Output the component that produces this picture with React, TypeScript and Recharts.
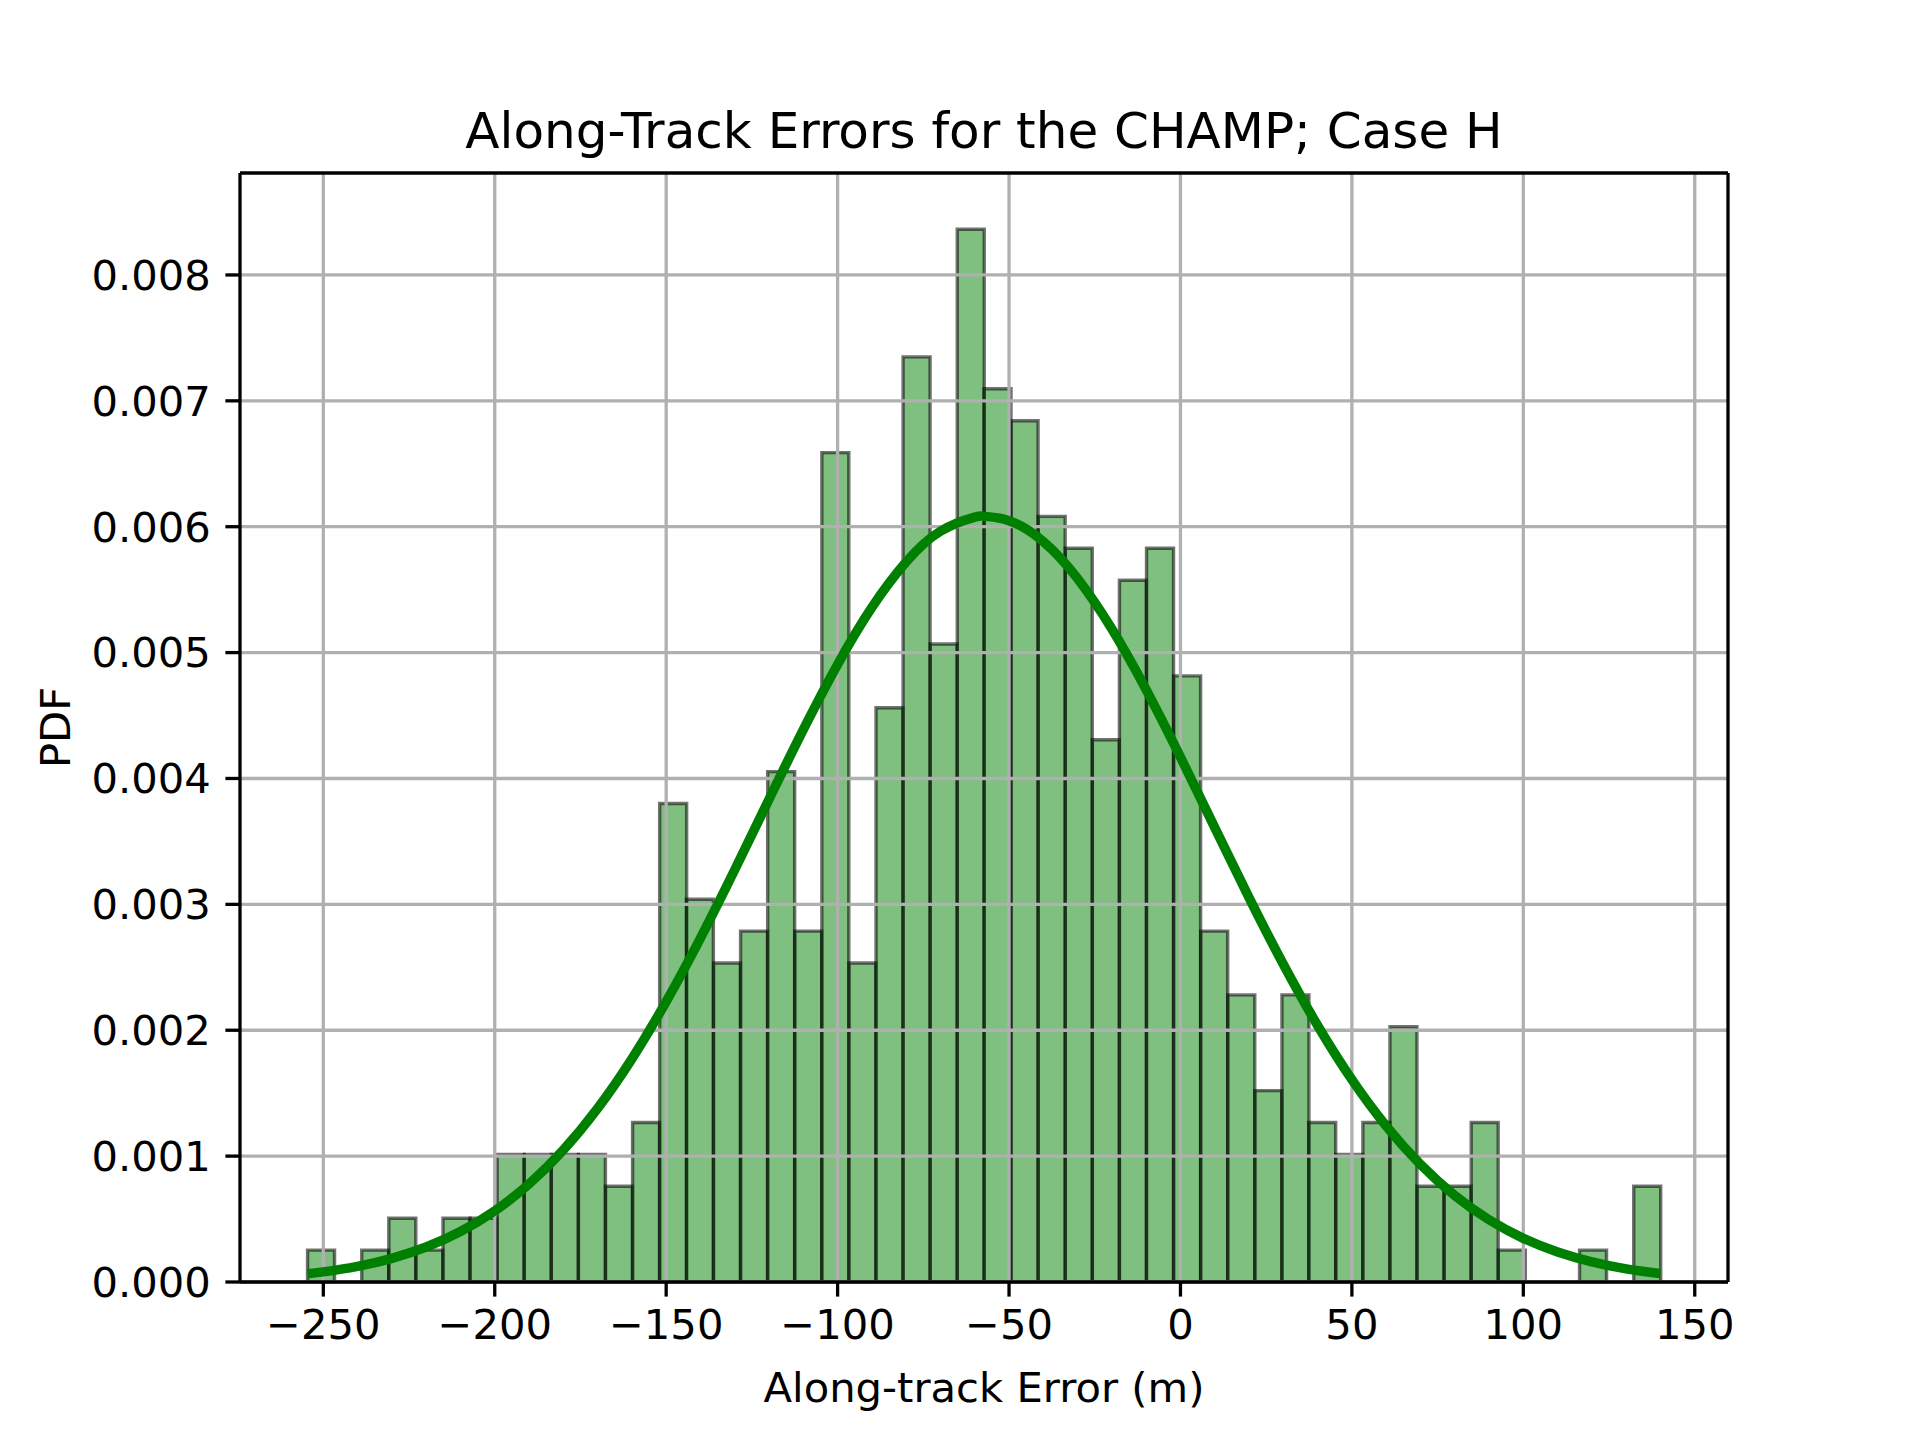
import React from "react";
import {
  ComposedChart,
  Bar,
  Line,
  XAxis,
  YAxis,
  CartesianGrid,
  ReferenceLine,
} from "recharts";

if (typeof document !== "undefined") {
  document.body.style.margin = "0";
}

// histogram: 50 bins, 500 samples
const sampleCount = 500;
const binWidth = 7.892;
const binCenters = [
  -250.7, -242.8, -234.9, -227.0, -219.1, -211.2, -203.3, -195.4, -187.5, -179.6,
  -171.7, -163.8, -155.9, -148.0, -140.2, -132.3, -124.4, -116.5, -108.6, -100.7,
  -92.8, -84.9, -77.0, -69.1, -61.2, -53.4, -45.5, -37.6, -29.7, -21.8,
  -13.9, -6.0, 1.9, 9.8, 17.7, 25.6, 33.5, 41.3, 49.2, 57.1,
  65.0, 72.9, 80.8, 88.7, 96.6, 104.5, 112.4, 120.3, 128.2, 136.1,
];
const binCounts = [
  1, 0, 1, 2, 1, 2, 2, 4, 4, 4,
  4, 3, 5, 15, 12, 10, 11, 16, 11, 26,
  10, 18, 29, 20, 33, 28, 27, 24, 23, 17,
  22, 23, 19, 11, 9, 6, 9, 5, 4, 5,
  8, 3, 3, 5, 1, 0, 0, 1, 0, 3,
];

// fitted normal curve
const curveX = [
  -254.6, -250, -240, -230, -220, -210, -200, -190, -180, -170, -160, -150,
  -140, -130, -120, -110, -100, -90, -80, -70, -60, -57, -50, -40, -30, -20, -10,
  0, 10, 20, 30, 40, 50, 60, 70, 80, 90, 100, 110, 120, 130, 140,
];
const curvePdf = [
  0.0000651, 0.0000802, 0.0001242, 0.000188, 0.0002777, 0.0004007, 0.0005653,
  0.0007786, 0.0010486, 0.0013794, 0.001773, 0.002227, 0.002732, 0.003275,
  0.003835, 0.004388, 0.004906, 0.005359, 0.00572, 0.005964, 0.006076, 0.006082,
  0.006048, 0.005882, 0.005588, 0.005187, 0.004705, 0.00417, 0.00361,
  0.003054, 0.002524, 0.002038, 0.001608, 0.00124, 0.000934, 0.000687,
  0.000494, 0.000347, 0.000238, 0.0001597, 0.0001046, 0.0000669,
];

const xTicks = [-250, -200, -150, -100, -50, 0, 50, 100, 150];
const yTicks = [0, 0.001, 0.002, 0.003, 0.004, 0.005, 0.006, 0.007, 0.008];
const xDomain: [number, number] = [-274.3, 159.7];
const yDomain: [number, number] = [0, 0.00881];

const binRows = binCenters.map((c, i) => ({
  center: c,
  pdf: binCounts[i] / (sampleCount * binWidth),
}));
const curveRows = curveX.map((x, i) => ({ x, pdf: curvePdf[i] }));

const FONT = "'DejaVu Sans', sans-serif";
const fmtX = (v: number) => (v < 0 ? "\u2212" + Math.abs(v) : String(v));

export default function App() {
  return (
    <div style={{ position: "relative", width: 1920, height: 1440, background: "#fff" }}>
      <ComposedChart
        width={1920}
        height={1440}
        data={binRows}
        margin={{ top: 173, right: 192, bottom: 28, left: 40 }}
        barCategoryGap={0}
        barGap={0}
        style={{ fontFamily: FONT }}
      >
        <XAxis
          xAxisId={0}
          type="number"
          dataKey="x"
          domain={xDomain}
          ticks={xTicks}
          allowDataOverflow
          tickFormatter={fmtX}
          height={130}
          tickSize={14.6}
          tickMargin={13}
          stroke="#000"
          axisLine={{ stroke: "#000", strokeWidth: 3.3 }}
          tickLine={{ stroke: "#000", strokeWidth: 3.3 }}
          tick={{ fill: "#000", fontSize: 41.7, fontFamily: FONT }}
          label={{
            value: "Along-track Error (m)",
            position: "insideBottom",
            offset: 10,
            fill: "#000",
            fontSize: 41.7,
            fontFamily: FONT,
          }}
        />
        <XAxis
          xAxisId="bins"
          type="number"
          dataKey="center"
          domain={xDomain}
          allowDataOverflow
          hide
        />
        <YAxis
          yAxisId={0}
          type="number"
          domain={yDomain}
          ticks={yTicks}
          allowDataOverflow
          tickFormatter={(v: number) => v.toFixed(3)}
          width={200}
          tickSize={14.6}
          tickMargin={14.6}
          axisLine={{ stroke: "#000", strokeWidth: 3.3 }}
          tickLine={{ stroke: "#000", strokeWidth: 3.3 }}
          tick={{ fill: "#000", fontSize: 41.7, fontFamily: FONT }}
          label={{
            value: "PDF",
            angle: -90,
            position: "insideLeft",
            offset: 15,
            fill: "#000",
            fontSize: 41.7,
            fontFamily: FONT,
            style: { textAnchor: "middle" },
          }}
        />
        <Bar
          xAxisId="bins"
          yAxisId={0}
          dataKey="pdf"
          fill="#008000"
          fillOpacity={0.5}
          stroke="#000"
          strokeOpacity={0.55}
          strokeWidth={3.4}
          isAnimationActive={false}
        />
        <CartesianGrid
          xAxisId={0}
          yAxisId={0}
          stroke="#b0b0b0"
          strokeWidth={3.3}
          horizontalValues={yTicks}
          verticalValues={xTicks}
          zIndex={350}
        />
        <Line
          xAxisId={0}
          yAxisId={0}
          data={curveRows}
          dataKey="pdf"
          type="natural"
          stroke="#008000"
          strokeWidth={9.5}
          dot={false}
          activeDot={false}
          isAnimationActive={false}
        />
        <ReferenceLine
          xAxisId={0}
          yAxisId={0}
          y={yDomain[1]}
          stroke="#000"
          strokeWidth={3.3}
          ifOverflow="extendDomain"
        />
        <ReferenceLine
          xAxisId={0}
          yAxisId={0}
          x={xDomain[1]}
          stroke="#000"
          strokeWidth={3.3}
          ifOverflow="extendDomain"
        />
      </ComposedChart>
      <svg
        width={1920}
        height={200}
        style={{ position: "absolute", left: 0, top: 0, pointerEvents: "none" }}
      >
        <text
          x={984}
          y={148}
          textAnchor="middle"
          fontFamily={FONT}
          fontSize={50}
          fill="#000"
        >
          Along-Track Errors for the CHAMP; Case H
        </text>
      </svg>
    </div>
  );
}
